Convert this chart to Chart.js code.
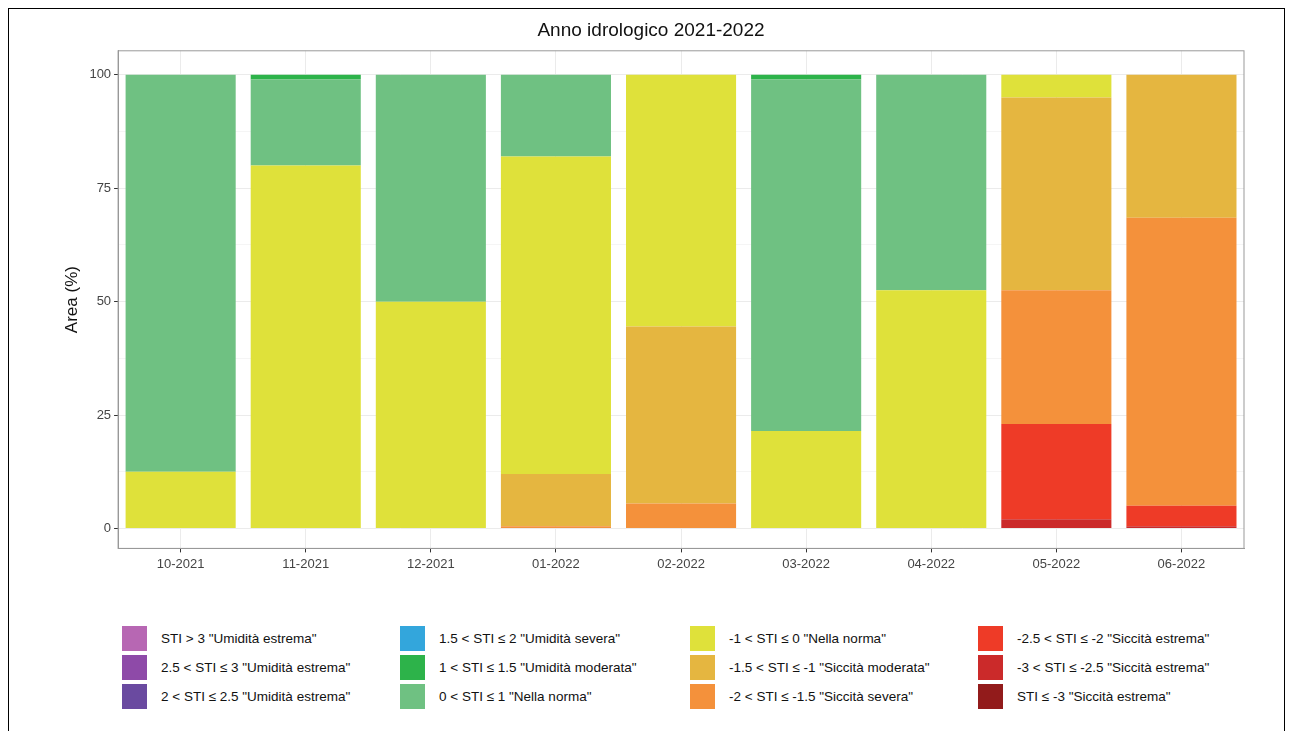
<!DOCTYPE html>
<html><head><meta charset="utf-8">
<script src="https://cdn.jsdelivr.net/npm/chart.js@4"></script>
<style>
body{margin:0;background:#fff;font-family:"Liberation Sans",Arial,sans-serif}
#wrap{position:absolute;left:8px;top:8px;width:1275px;height:740px;border:1.5px solid #000;border-bottom:none}
#c{position:absolute;left:0;top:0}
.leg{position:absolute;font-size:13.5px;color:#111;display:flex;align-items:center}
.leg span{display:inline-block;width:25px;height:25px;margin-right:14px}
</style></head><body>
<div id="wrap"></div>
<canvas id="c" width="1290" height="600"></canvas>
<div id="legend"></div>
<script>
const months = ["10-2021","11-2021","12-2021","01-2022","02-2022","03-2022","04-2022","05-2022","06-2022"];
// classes from driest (bottom of stack) to wettest
const classes = ['STI ≤ -3 "Siccità estrema"','-3 < STI ≤ -2.5 "Siccità estrema"','-2.5 < STI ≤ -2 "Siccità estrema"',
 '-2 < STI ≤ -1.5 "Siccità severa"','-1.5 < STI ≤ -1 "Siccità moderata"','-1 < STI ≤ 0 "Nella norma"',
 '0 < STI ≤ 1 "Nella norma"','1 < STI ≤ 1.5 "Umidità moderata"','1.5 < STI ≤ 2 "Umidità severa"',
 '2 < STI ≤ 2.5 "Umidità estrema"','2.5 < STI ≤ 3 "Umidità estrema"','STI > 3 "Umidità estrema"'];
const colors = ["#921b1b","#cb2a2a","#ee3b27","#f4913b","#e5b640","#dfe13a","#6fc182","#2db34a","#33a6dc","#6a4aa0","#8e4aa8","#b767b3"];
const stiLe3   = [0,0,0,0,0,0,0,0,0];
const sti3_25  = [0,0,0,0,0,0,0,2,0.5];
const sti25_2  = [0,0,0,0,0,0,0,21,4.5];
const sti2_15  = [0,0,0,0.5,5.5,0,0,29.5,63.5];
const sti15_1  = [0,0,0,11.5,39,0,0,42.5,31.5];
const sti1_0   = [12.5,80,50,70,55.5,21.5,52.5,5,0];
const sti0_1   = [87.5,19,50,18,0,77.5,47.5,0,0];
const sti1_15  = [0,1,0,0,0,1,0,0,0];
const sti15_2  = [0,0,0,0,0,0,0,0,0];
const sti2_25  = [0,0,0,0,0,0,0,0,0];
const sti25_3  = [0,0,0,0,0,0,0,0,0];
const stiGt3   = [0,0,0,0,0,0,0,0,0];
const series = [stiLe3,sti3_25,sti25_2,sti2_15,sti15_1,sti1_0,sti0_1,sti1_15,sti15_2,sti2_25,sti25_3,stiGt3];
const yTicks = [0,25,50,75,100];

new Chart(document.getElementById("c"), {
  type: "bar",
  data: {labels: months, datasets: series.map((d,i)=>({label:classes[i],data:d,backgroundColor:colors[i],borderWidth:0,barPercentage:0.88,categoryPercentage:1}))},
  options: {
    responsive:false, animation:false,
    layout:{padding:{left:58,right:46,top:19,bottom:24}},
    plugins:{legend:{display:false},tooltip:{enabled:false},
      title:{display:true,text:"Anno idrologico 2021-2022",color:"#111",font:{size:19,weight:"normal",family:"Liberation Sans"},padding:{top:0,bottom:9},
        position:"top"}},
    scales:{
      x:{stacked:true,grid:{color:"#ebebeb",offset:false,tickColor:"#333",tickLength:4},border:{color:"#999"},
        ticks:{color:"#444",font:{size:13,family:"Liberation Sans"},padding:4}},
      y:{stacked:true,min:-4.4,max:105.3,
        afterBuildTicks:s=>{s.ticks=[0,12.5,25,37.5,50,62.5,75,87.5,100].map(v=>({value:v}));},
        grid:{color:c=>c.tick&&yTicks.includes(c.tick.value)?"#ebebeb":"#f5f5f5",tickLength:4,tickColor:c=>c.tick&&yTicks.includes(c.tick.value)?"#333":"rgba(0,0,0,0)"},
        border:{color:"#999"},
        ticks:{color:"#444",font:{size:13,family:"Liberation Sans"},callback:v=>yTicks.includes(v)?v:""},
        title:{display:true,text:"Area (%)",color:"#111",font:{size:17,family:"Liberation Sans"}}}
    }
  },
  plugins:[{id:"frame",afterDraw(ch){const a=ch.chartArea,x=ch.ctx;x.save();x.strokeStyle="#999";x.lineWidth=1;x.strokeRect(a.left,a.top,a.right-a.left,a.bottom-a.top);x.restore();}}]
});

// legend: 4 columns x 3 rows, wettest first
const order = [11,10,9,8,7,6,5,4,3,2,1,0];
const colX = [122,400,690,978], rowY = [626,655,684];
const leg = document.getElementById("legend");
order.forEach((k,i)=>{
  const el=document.createElement("div");el.className="leg";
  el.style.left=colX[Math.floor(i/3)]+"px";el.style.top=rowY[i%3]+"px";
  el.innerHTML='<span style="background:'+colors[k]+'"></span>'+classes[k];
  leg.appendChild(el);
});
</script></body></html>
